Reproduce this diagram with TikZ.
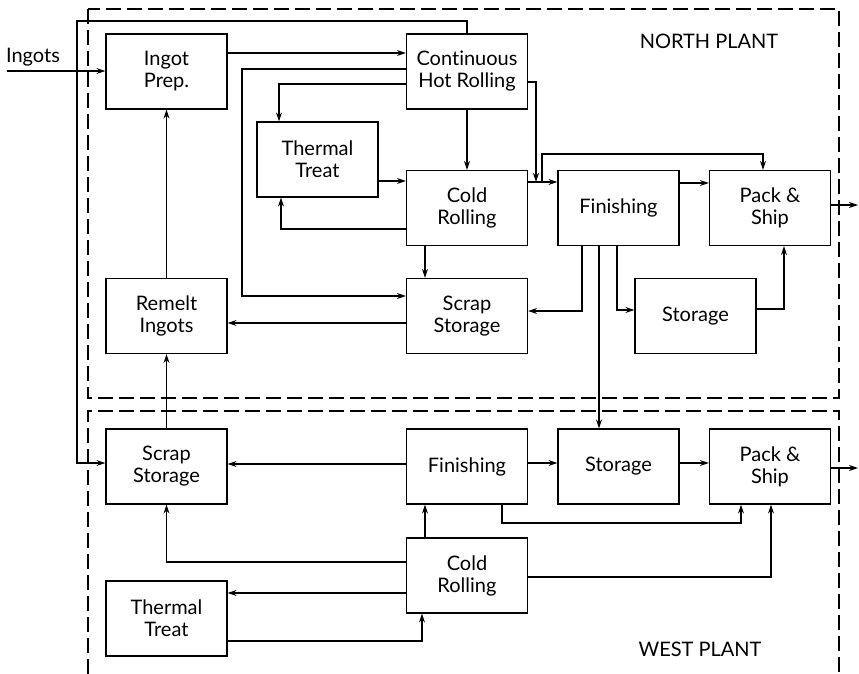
\documentclass[tikz,border=0pt]{standalone}
\usepackage{fontspec}
\setmainfont{Lato}[Ligatures=NoCommon]
\usetikzlibrary{arrows.meta}
\begin{document}
\begin{tikzpicture}[x=1pt,y=-1pt,
 blk/.style={draw, line width=1.2pt, minimum width=121pt, minimum height=75pt, inner sep=0pt, align=center, font=\fontsize{20}{22}\selectfont},
 flow/.style={line width=1.2pt, -{Stealth[length=9pt,width=6pt]}},
 plant/.style={line width=1.2pt, dash pattern=on 15pt off 6pt},
 lbl/.style={font=\fontsize{20}{22}\selectfont, inner sep=0pt}]
\useasboundingbox (0,0) rectangle (859,674);
% plants
\draw[plant] (88,9) rectangle (839,398);
\draw[plant] (88,674) -- (88,411) -- (839,411) -- (839,674);
% nodes
\node[blk] (ip) at (166.5,71.5) {Ingot\\Prep.};
\node[blk] (chr) at (467,71.5) {Continuous\\Hot Rolling};
\node[blk] (ttn) at (317.5,159.5) {Thermal\\Treat};
\node[blk] (crn) at (467,208) {Cold\\Rolling};
\node[blk] (fin) at (618.5,208) {Finishing};
\node[blk] (psn) at (770,208) {Pack \&\\Ship};
\node[blk] (rem) at (166.5,316) {Remelt\\Ingots};
\node[blk] (ssn) at (467,316) {Scrap\\Storage};
\node[blk] (stn) at (695.5,316) {Storage};
\node[blk] (ssw) at (166.5,466.5) {Scrap\\Storage};
\node[blk] (fiw) at (467,466.5) {Finishing};
\node[blk] (stw) at (618.5,466.5) {Storage};
\node[blk] (psw) at (770,466.5) {Pack \&\\Ship};
\node[blk] (crw) at (467,575.5) {Cold\\Rolling};
\node[blk] (ttw) at (166.5,618.5) {Thermal\\Treat};
% labels
\node[lbl] (ingots) at (33,57) {Ingots};
\node[lbl] (north) at (709,41) {NORTH PLANT};
\node[lbl] (west) at (700,649) {WEST PLANT};
% coordinates
\coordinate (inS) at (7,71);
\coordinate (j1) at (542,182);
\coordinate (j2) at (536,182);
\coordinate (outN) at (858,205);
\coordinate (outW) at (858,468);
% north connectors
\draw[flow] (inS) -- (ip.west |- inS);
\draw[flow] (ip.east |- 0,53) -- (chr.west |- 0,53);
\draw[flow] (chr.west |- 0,69) -| (242,296) -- (ssn.west |- 0,296);
\draw[flow] (chr.west |- 0,84) -| (ttn.north -| 279,0);
\draw[flow] (ttn.east |- 0,181) -- (crn.west |- 0,181);
\draw[flow] (crn.west |- 0,229) -| (ttn.south -| 281,0);
\draw[flow] (chr.south) -- (crn.north);
\draw[flow] (chr.east |- 0,82) -| (j2);
\draw[flow] (crn.east |- 0,182) -- (fin.west |- 0,182);
\draw[flow] (j1) |- (763,154) -- (psn.north -| 763,0);
\draw[flow] (fin.east |- 0,183) -- (psn.west |- 0,183);
\draw[flow] (psn.east |- outN) -- (outN);
\draw[flow] (fin.south -| 582,0) |- (ssn.east |- 0,311);
\draw[flow] (fin.south -| 599,0) -- (stw.north -| 599,0);
\draw[flow] (fin.south -| 617,0) |- (stn.west |- 0,310);
\draw[flow] (stn.east |- 0,309) -| (psn.south -| 784,0);
\draw[flow] (ssn.west |- 0,323) -- (rem.east |- 0,323);
\draw[flow] (crn.south -| 425,0) -- (ssn.north -| 425,0);
\draw[flow] (rem.north) -- (ip.south);
\draw[flow] (ssw.north) -- (rem.south);
\draw[flow] (chr.north) |- (77,21) |- (ssw.west |- 0,463);
% west connectors
\draw[flow] (fiw.west |- 0,464) -- (ssw.east |- 0,464);
\draw[flow] (fiw.east |- 0,463) -- (stw.west |- 0,463);
\draw[flow] (stw.east |- 0,463) -- (psw.west |- 0,463);
\draw[flow] (psw.east |- outW) -- (outW);
\draw[flow] (fiw.south -| 502,0) |- (741,523) -- (psw.south -| 741,0);
\draw[flow] (crw.east |- 0,577) -| (psw.south -| 771,0);
\draw[flow] (crw.north -| 425,0) -- (fiw.south -| 425,0);
\draw[flow] (crw.west |- 0,562) -| (ssw.south);
\draw[flow] (crw.west |- 0,593) -- (ttw.east |- 0,593);
\draw[flow] (ttw.east |- 0,641) -| (crw.south -| 422,0);
\end{tikzpicture}
\end{document}
